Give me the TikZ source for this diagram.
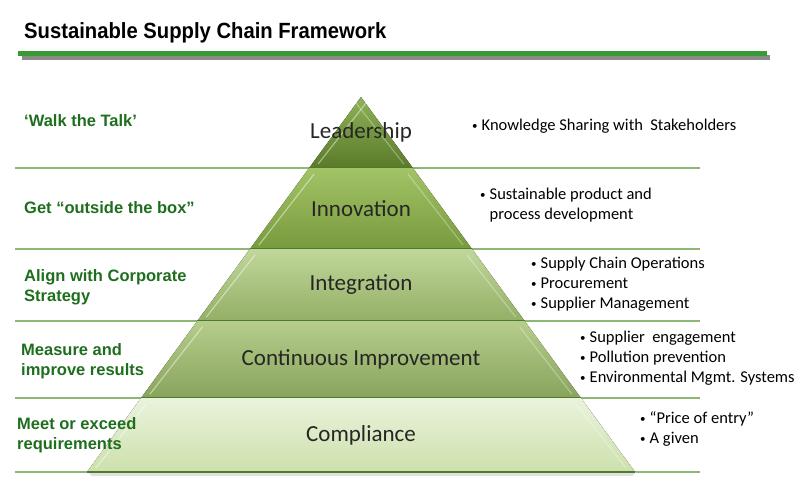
\documentclass[tikz,border=0pt]{standalone}
\usepackage{fontspec}
\setmainfont{Carlito}
\newfontfamily\headfont[FakeStretch=0.92]{Liberation Sans}
\newfontfamily\aimfont{Liberation Sans}
\definecolor{bargreen}{HTML}{379A32}
\definecolor{bargray}{HTML}{8A8A8A}
\definecolor{aimgreen}{HTML}{1E6E1E}
\definecolor{rulegreen}{HTML}{8CB874}
\definecolor{edgegreen}{HTML}{4E7A2A}
\definecolor{leadtop}{HTML}{8FB256}
\definecolor{leadbot}{HTML}{5A7A2A}
\definecolor{innotop}{HTML}{A2C466}
\definecolor{innobot}{HTML}{789A3E}
\definecolor{integtop}{HTML}{C0D79A}
\definecolor{integbot}{HTML}{94AF66}
\definecolor{conttop}{HTML}{B6CD8C}
\definecolor{contbot}{HTML}{88A45C}
\definecolor{compltop}{HTML}{EAF3DC}
\definecolor{complbot}{HTML}{CDE0AC}
\newcommand{\itembul}{\makebox[9.5pt][l]{\raisebox{1.2pt}{\fontsize{11}{11}\selectfont •}}}
\begin{document}
\begin{tikzpicture}[x=1pt, y=-1pt,
	tier/.style={font=\fontsize{23}{26}\selectfont, text=black!85},
	aim/.style={anchor=west, align=left, inner sep=0pt, text=aimgreen,
		font=\aimfont\bfseries\fontsize{16.5}{20}\selectfont},
	note/.style={anchor=west, align=left, inner sep=0pt,
		font=\fontsize{16.5}{20}\selectfont}]
		\useasboundingbox (0,0) rectangle (800,495);
		% title
		\node[anchor=west, inner sep=0pt, font=\headfont\bfseries\fontsize{22}{24}\selectfont] (title) at (24,33) {Sustainable Supply Chain Framework};
		\fill[bargray] (22,55) rectangle (770,60);
		\fill[bargreen] (18,51) rectangle (767,56);
		% rules
		\foreach \y in {168,249,321,398,472}
			\draw[rulegreen, line width=1.2pt] (15,\y) -- (700,\y);
		% shadow
		\fill[black!12] (88,472) -- (636,472) -- (632,476) -- (92,476) -- cycle;
		% pyramid
		\foreach \name/\ya/\yb/\ctop/\cbot/\txt in {
			lead/97/168/leadtop/leadbot/Leadership,
			inno/168/249/innotop/innobot/Innovation,
			integ/249/321/integtop/integbot/Integration,
			cont/321/398/conttop/contbot/Continuous Improvement,
			compl/398/472/compltop/complbot/Compliance}
		{
			\fill[top color=\ctop, bottom color=\cbot] ({361-0.7307*(\ya-97)},\ya) -- ({361+0.7307*(\ya-97)},\ya) -- ({361+0.7307*(\yb-97)},\yb) -- ({361-0.7307*(\yb-97)},\yb) -- cycle;
			% bevel
			\draw[white, opacity=0.45, line width=1.2pt] ({361-0.7307*(\yb-97)+9},\yb-4) -- ({361-0.7307*(\ya-97)+5},\ya+6);
			\draw[white, opacity=0.3, line width=1.2pt] ({361+0.7307*(\yb-97)-9},\yb-4) -- ({361+0.7307*(\ya-97)-5},\ya+6);
			\draw[edgegreen, line width=1.2pt] ({361-0.7307*(\yb-97)},\yb) -- ({361+0.7307*(\yb-97)},\yb);
			\node[tier] (\name) at (361,{(\ya+\yb)/2}) {\txt};
		}
		% aims
		\node[aim] (walk) at (24,121) {‘Walk the Talk’};
		\node[aim] (box) at (24,208) {Get “outside the box”};
		\node[aim] (align) at (24,287) {Align with Corporate\\Strategy};
		\node[aim] (measure) at (21,361) {Measure and\\improve results};
		\node[aim] (meet) at (17,435.5) {Meet or exceed\\requirements};
		% notes
		\node[note] (share) at (472,126) {\itembul Knowledge Sharing with~ Stakeholders};
		\node[note] (develop) at (480,205.5) {\itembul Sustainable product and\\\hspace*{9.5pt}process development};
		\node[note] (ops) at (531,284) {\itembul Supply Chain Operations\\\itembul Procurement\\\itembul Supplier Management};
		\node[note] (engage) at (580,358) {\itembul Supplier~ engagement\\\itembul Pollution prevention\\\itembul Environmental Mgmt. Systems};
		\node[note] (entry) at (640,429) {\itembul “Price of entry”\\\itembul A given};
	\end{tikzpicture}
\end{document}
